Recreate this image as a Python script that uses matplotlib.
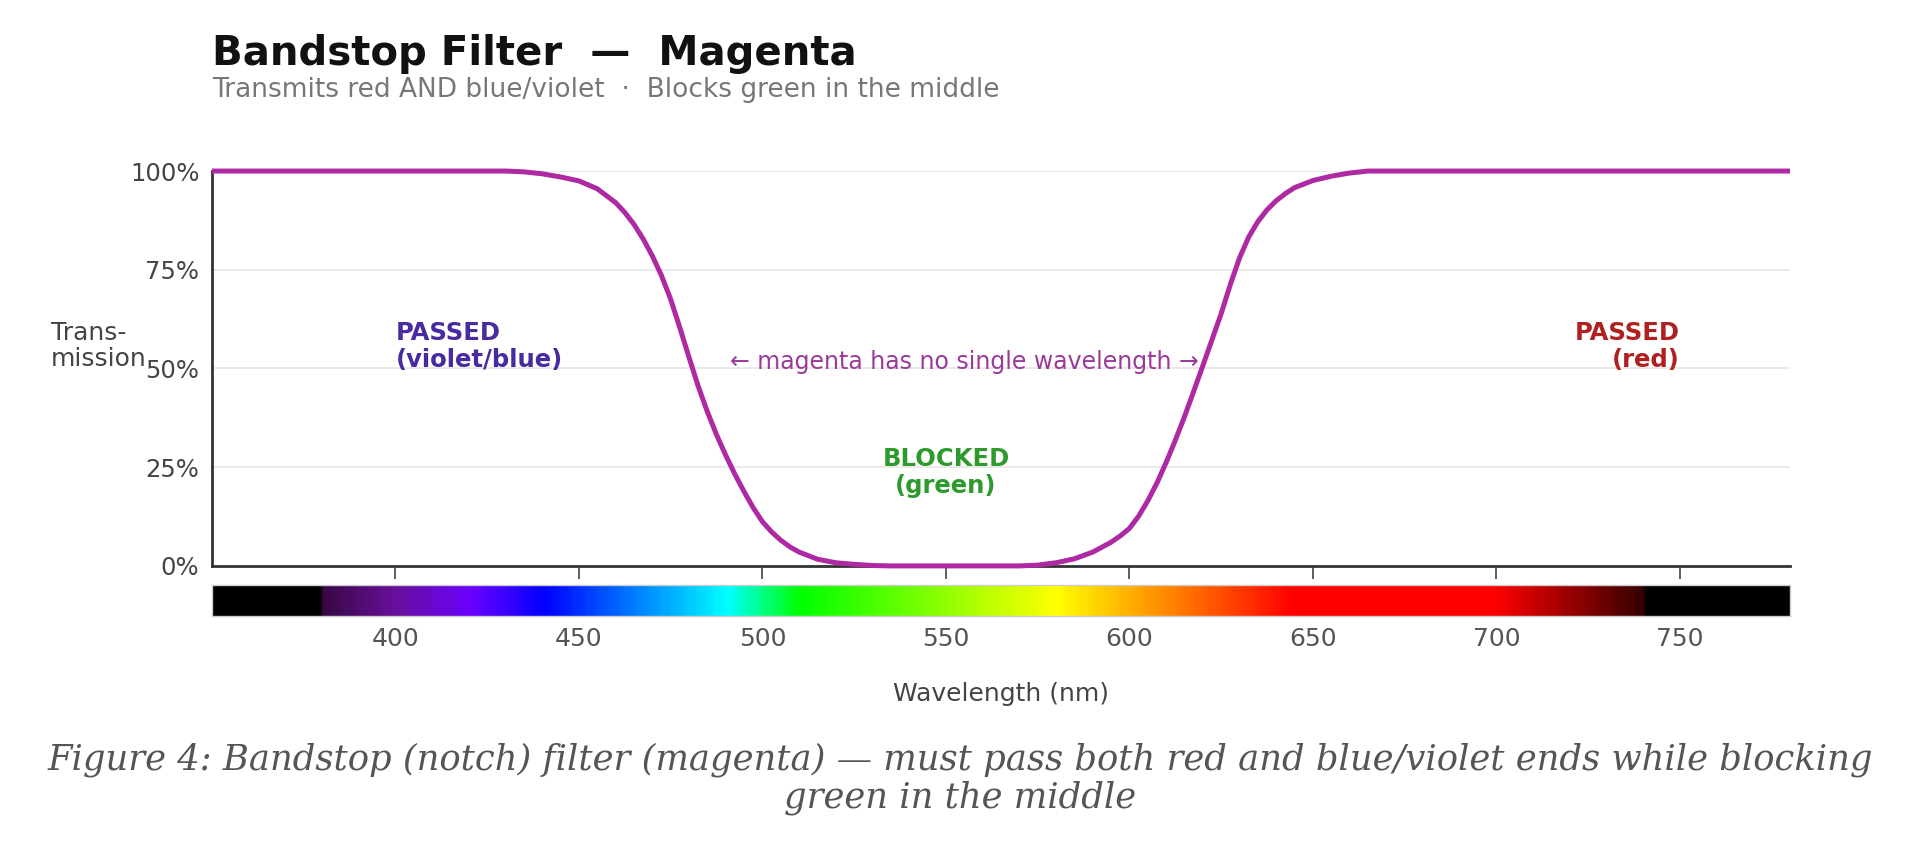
import matplotlib
matplotlib.use("Agg")
import matplotlib.pyplot as plt
import numpy as np
from matplotlib.colors import LinearSegmentedColormap, to_rgb

# transmission curve (nm, fraction)
wavelength = [350, 400, 430, 435, 440, 445, 450, 455, 460, 462.5, 465, 467.5,
              470, 472.5, 475, 477.5, 480, 482.5, 485, 487.5, 490, 492.5, 495,
              497.5, 500, 502.5, 505, 507.5, 510, 515, 520, 525, 530, 535, 540,
              550, 560, 570, 575, 580, 585, 590, 595, 597.5, 600, 602.5, 605,
              607.5, 610, 612.5, 615, 617.5, 620, 622.5, 625, 627.5, 630,
              632.5, 635, 637.5, 640, 642.5, 645, 650, 655, 660, 665, 670,
              700, 750, 780]
transmission = [1.0, 1.0, 1.0, 0.998, 0.993, 0.985, 0.975, 0.955, 0.92, 0.895,
                0.865, 0.828, 0.785, 0.735, 0.675, 0.603, 0.528, 0.455, 0.39,
                0.332, 0.28, 0.232, 0.188, 0.147, 0.112, 0.086, 0.065, 0.048,
                0.035, 0.017, 0.008, 0.004, 0.001, 0.0, 0.0, 0.0, 0.0, 0.0,
                0.002, 0.008, 0.018, 0.035, 0.06, 0.076, 0.095, 0.126, 0.165,
                0.21, 0.262, 0.318, 0.378, 0.442, 0.507, 0.573, 0.639, 0.713,
                0.78, 0.833, 0.872, 0.902, 0.925, 0.943, 0.958, 0.976, 0.987,
                0.995, 1.0, 1.0, 1.0, 1.0, 1.0]

x_ticks = [400, 450, 500, 550, 600, 650, 700, 750]
y_ticks = [0, 0.25, 0.5, 0.75, 1.0]
y_ticklabels = ["0%", "25%", "50%", "75%", "100%"]

# visible spectrum colour stops
spec_nm = [380, 400, 420, 440, 490, 510, 580, 645, 700, 740]
spec_col = ["#3a0848", "#6a10a0", "#6a00ff", "#0000ff", "#00ffff",
            "#00ff00", "#ffff00", "#ff0000", "#ff0000", "#3a0000"]

title = "Bandstop Filter  —  Magenta"
subtitle = "Transmits red AND blue/violet  ·  Blocks green in the middle"
caption = ("Figure 4: Bandstop (notch) filter (magenta) — must pass both red and blue/violet ends while blocking\n"
           "green in the middle")

fig = plt.figure(figsize=(19.2, 8.51), dpi=100)
fig.patch.set_facecolor("white")

L, W = 0.1104, 0.8219
ax = fig.add_axes([L, 0.335, W, 0.464])
ax.set_xlim(350, 780)
ax.set_ylim(0, 1.0)
for y in y_ticks[1:]:
    ax.axhline(y, color="#e6e6e6", lw=1.2, zorder=0)
ax.plot(wavelength, transmission, color="#ad2aa3", lw=3.6, clip_on=False, zorder=3,
        solid_capstyle="butt")

ax.spines["top"].set_visible(False)
ax.spines["right"].set_visible(False)
for s in ["left", "bottom"]:
    ax.spines[s].set_color("#333333")
    ax.spines[s].set_linewidth(2)
ax.set_xticks(x_ticks)
ax.set_xticklabels([])
ax.tick_params(axis="x", length=9, width=1.1, color="#333333", direction="out")
ax.set_yticks(y_ticks)
ax.set_yticklabels(y_ticklabels)
ax.tick_params(axis="y", length=0, pad=9, labelsize=17.5, labelcolor="#444444")

ax.text(400, 0.556, "PASSED\n(violet/blue)", color="#4a2aa0", fontsize=17.5,
        fontweight="bold", ha="left", va="center", linespacing=1.15)
ax.text(750, 0.556, "PASSED\n(red)", color="#b02020", fontsize=17.5,
        fontweight="bold", ha="right", va="center", multialignment="right",
        linespacing=1.15)
ax.text(550, 0.236, "BLOCKED\n(green)", color="#2e9a2e", fontsize=17.5,
        fontweight="bold", ha="center", va="center", linespacing=1.15)
ax.text(555, 0.516, "← magenta has no single wavelength →", color="#9b3a98",
        fontsize=17, ha="center", va="center")

# spectrum strip
sax = fig.add_axes([L, 0.276, W, 0.0364])
cmap = LinearSegmentedColormap.from_list(
    "spec", [((n - 380) / 360, to_rgb(c)) for n, c in zip(spec_nm, spec_col)])
nm = np.arange(350, 781)
rgb = cmap((np.clip(nm, 380, 740) - 380) / 360)[:, :3]
rgb[(nm < 380) | (nm > 740)] = 0
sax.imshow(rgb[np.newaxis, :, :], aspect="auto", extent=(350, 780, 0, 1),
           interpolation="bilinear")
sax.set_xlim(350, 780)
sax.set_yticks([])
sax.set_xticks(x_ticks)
sax.tick_params(axis="x", length=0, pad=8, labelsize=18, labelcolor="#555555")
for s in sax.spines.values():
    s.set_color("#cccccc")
    s.set_linewidth(1)

fig.text(L, 0.937, title, fontsize=29, fontweight="bold", color="#111111",
         ha="left", va="center")
fig.text(L, 0.894, subtitle, fontsize=19, color="#777777", ha="left", va="center")
fig.text(0.0266, 0.593, "Trans-\nmission", fontsize=18, color="#444444",
         ha="left", va="center", linespacing=1.1)
fig.text(0.5214, 0.1845, "Wavelength (nm)", fontsize=18, color="#444444",
         ha="center", va="center")
fig.text(0.5, 0.085, caption, fontsize=25.5, color="#555555", style="italic",
         family="DejaVu Serif", ha="center", va="center", linespacing=1.15)

fig.savefig("out.png", dpi=100)
